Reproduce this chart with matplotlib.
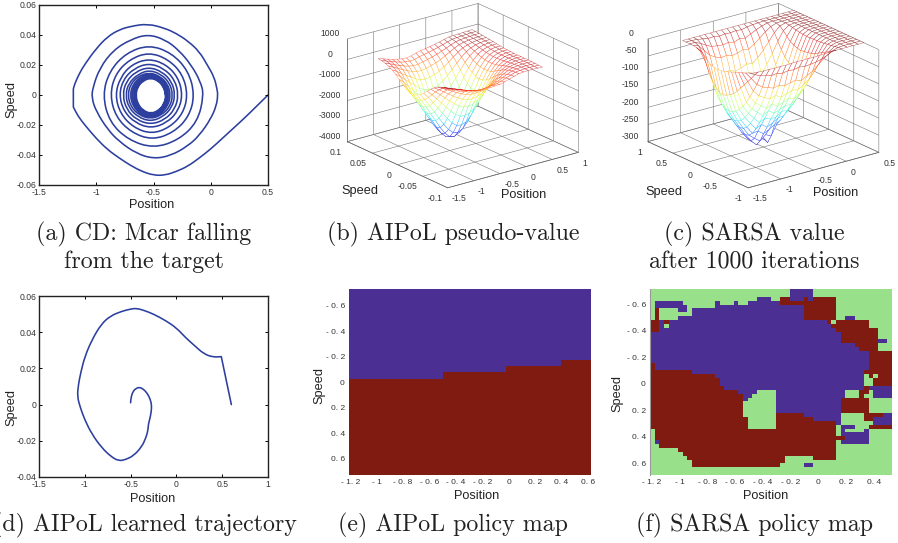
import re

import numpy as np
import matplotlib
matplotlib.use('Agg')
import matplotlib.pyplot as plt
from matplotlib.colors import ListedColormap
from matplotlib.patches import PathPatch
from matplotlib.path import Path

W, H = 898, 543

plt.rcParams['font.family'] = ['Liberation Sans', 'DejaVu Sans']
plt.rcParams['axes.unicode_minus'] = False

LINE_BLUE = '#2c3f9e'
TEXT = '#333333'
PURPLE = '#4b2f92'
RED = '#7f1b10'
GREEN = '#99e08b'

# (a) spiral, one sub list per half turn
mcar_pos = [0.5, 0.5, 0.4, 0.3, 0.2, 0.1, 0, -0.1, -0.2, -0.3, -0.4, -0.5, -0.6, -0.7, -0.8, -0.9, -1, -1.1, -1.16, -1.2, -1.2,
            -1.2, -1.2, -1.19, -1.15, -1.1, -1, -0.9, -0.8, -0.7, -0.55, -0.4, -0.3, -0.2, -0.1, -0.03, 0.03, 0.055, 0.062,
            0.05, 0, -0.1, -0.2, -0.35, -0.5, -0.65, -0.8, -0.9, -1, -1.04, -1.03, -0.97, -0.85, -0.7, -0.55, -0.4, -0.28, -0.17, -0.09, -0.06,
            -0.115, -0.28, -0.5, -0.72, -0.885, -0.945, -0.885, -0.74, -0.54, -0.34, -0.195, -0.14,
            -0.19, -0.325, -0.51, -0.695, -0.83, -0.88, -0.835, -0.71, -0.54, -0.37, -0.245, -0.2,
            -0.243, -0.36, -0.5175, -0.675, -0.79, -0.835, -0.79, -0.69, -0.54, -0.39, -0.285, -0.245,
            -0.285, -0.384, -0.5225, -0.66, -0.76, -0.8, -0.765, -0.67, -0.54, -0.41, -0.315, -0.28,
            -0.313, -0.4, -0.525, -0.65, -0.737, -0.77, -0.74, -0.655, -0.54, -0.425, -0.34, -0.31,
            -0.34, -0.419, -0.5275, -0.636, -0.716, -0.745, -0.717, -0.634, -0.5375, -0.434, -0.358, -0.33,
            -0.356, -0.429, -0.5275, -0.626, -0.699, -0.725, -0.7, -0.631, -0.5375, -0.444, -0.375, -0.35,
            -0.374, -0.439, -0.5275, -0.616, -0.681, -0.705, -0.682, -0.62, -0.535, -0.45, -0.388, -0.365,
            -0.387, -0.446, -0.5275, -0.609, -0.668, -0.69, -0.669, -0.611, -0.5325, -0.454, -0.396, -0.375,
            -0.395, -0.45, -0.525, -0.6, -0.655, -0.675, -0.656, -0.6025, -0.53, -0.4575, -0.404, -0.385,
            -0.404, -0.455, -0.525, -0.595, -0.646, -0.665, -0.647, -0.596, -0.5275, -0.459, -0.409, -0.39,
            -0.408, -0.456, -0.5225, -0.589, -0.637, -0.655, -0.638, -0.59, -0.525, -0.46, -0.412, -0.395]
mcar_speed = [0, 0, -0.0075, -0.015, -0.022, -0.029, -0.036, -0.042, -0.0475, -0.051, -0.0535, -0.0535, -0.051, -0.047, -0.042, -0.0365, -0.029, -0.02, -0.014, -0.008, -0.008,
              0.004, 0.004, 0.007, 0.014, 0.0205, 0.031, 0.039, 0.0435, 0.0458, 0.0475, 0.0445, 0.041, 0.036, 0.029, 0.02, 0.012, 0.004, 0,
              -0.007, -0.016, -0.027, -0.034, -0.0405, -0.0425, -0.039, -0.031, -0.023, -0.011, -0.002, 0.005, 0.018, 0.03, 0.037, 0.0405, 0.037, 0.03, 0.02, 0.009, 0,
              -0.018, -0.03, -0.0355, -0.03, -0.018, 0, 0.016, 0.028, 0.0335, 0.028, 0.016, 0,
              -0.0145, -0.025, -0.03, -0.025, -0.0145, 0, 0.0138, 0.0238, 0.0285, 0.0238, 0.0138, 0,
              -0.0125, -0.0217, -0.026, -0.0217, -0.0125, 0, 0.0118, 0.0204, 0.0243, 0.0204, 0.0118, 0,
              -0.0108, -0.0186, -0.0222, -0.0186, -0.0108, 0, 0.0103, 0.0178, 0.0212, 0.0178, 0.0103, 0,
              -0.0095, -0.0165, -0.0197, -0.0165, -0.0095, 0, 0.009, 0.0156, 0.0186, 0.0156, 0.009, 0,
              -0.0085, -0.0147, -0.0176, -0.0147, -0.0085, 0, 0.008, 0.0139, 0.0166, 0.0139, 0.008, 0,
              -0.0078, -0.0134, -0.016, -0.0134, -0.0078, 0, 0.0073, 0.0126, 0.015, 0.0126, 0.0073, 0,
              -0.0073, -0.0126, -0.015, -0.0126, -0.0073, 0, 0.0068, 0.0117, 0.014, 0.0117, 0.0068, 0,
              -0.0068, -0.0117, -0.014, -0.0117, -0.0068, 0, 0.0063, 0.0108, 0.0129, 0.0108, 0.0063, 0,
              -0.0065, -0.0113, -0.0135, -0.0113, -0.0065, 0, 0.006, 0.0104, 0.0124, 0.0104, 0.006, 0,
              -0.0063, -0.0108, -0.0129, -0.0108, -0.0063, 0, 0.0058, 0.01, 0.0119, 0.01, 0.0058, 0,
              -0.006, -0.0104, -0.0124, -0.0104, -0.006, 0, 0.0055, 0.0095, 0.0114, 0.0095, 0.0055, 0]

# (d) learned trajectory
traj_pos = [-0.5, -0.5, -0.495, -0.475, -0.44, -0.4, -0.36, -0.32, -0.285, -0.27, -0.275, -0.29, -0.305, -0.31, -0.33, -0.38, -0.47, -0.55, -0.63,
            -0.72, -0.82, -0.92, -1, -1.05, -1.082, -1.07, -1.045, -1, -0.92, -0.82, -0.72, -0.6, -0.5, -0.435, -0.35, -0.25, -0.12,
            0, 0.1, 0.2, 0.3, 0.4, 0.49, 0.49, 0.6, 0.6]
traj_speed = [0.001, 0.001, 0.004, 0.0072, 0.009, 0.0096, 0.0085, 0.0064, 0.003, -0.0005, -0.004, -0.008, -0.0105, -0.014, -0.018, -0.0235, -0.0283, -0.0303, -0.0312,
              -0.0285, -0.0235, -0.0165, -0.0085, -0.0015, 0.0045, 0.011, 0.0175, 0.0265, 0.036, 0.0445, 0.049, 0.0515, 0.0528, 0.0532, 0.052, 0.05, 0.0465,
              0.0424, 0.037, 0.0325, 0.028, 0.0262, 0.0265, 0.0265, 0, 0]

# (b) pseudo value, rows go from speed -0.07 to 0.07
pseudo_pos = [-1.2, -1.11, -1.02, -0.93, -0.84, -0.75, -0.66, -0.57, -0.48, -0.39, -0.3, -0.21, -0.12, -0.03, 0.06, 0.15, 0.24, 0.33, 0.42, 0.51, 0.6]
pseudo_speed = [-0.07, -0.063, -0.056, -0.049, -0.042, -0.035, -0.028, -0.021, -0.014, -0.007, 0, 0.007, 0.014, 0.021, 0.028, 0.035, 0.042, 0.049, 0.056, 0.063, 0.07]
pseudo_value = [
    [290, 200, 120, 40, -50, -120, -180, -215, -225, -225, -205, -190, -130, -60, 10, 80, 100, 110, 110, 100, 90],
    [254, 157, 68, -21, -120, -198, -266, -304, -313, -306, -277, -249, -176, -92, -10, 69, 98, 114, 117, 110, 100],
    [198, 90, -16, -121, -234, -328, -409, -456, -464, -451, -406, -355, -261, -153, -50, 46, 88, 113, 122, 117, 109],
    [122, -3, -131, -257, -392, -509, -609, -668, -678, -655, -592, -510, -384, -243, -110, 9, 70, 108, 125, 124, 117],
    [6, -145, -308, -471, -639, -793, -926, -1006, -1021, -983, -889, -759, -586, -392, -211, -56, 36, 95, 122, 126, 120],
    [-140, -325, -533, -741, -953, -1154, -1327, -1437, -1459, -1404, -1271, -1081, -845, -584, -343, -141, -10, 76, 117, 128, 123],
    [-316, -543, -805, -1067, -1333, -1591, -1816, -1961, -1992, -1917, -1737, -1474, -1164, -820, -505, -247, -68, 50, 107, 126, 122],
    [-492, -760, -1077, -1394, -1714, -2029, -2304, -2485, -2526, -2431, -2204, -1868, -1481, -1056, -668, -353, -126, 25, 99, 125, 122],
    [-638, -940, -1302, -1664, -2028, -2389, -2706, -2916, -2964, -2851, -2586, -2189, -1742, -1248, -800, -439, -172, 5, 93, 126, 124],
    [-734, -1058, -1448, -1838, -2230, -2622, -2964, -3192, -3243, -3118, -2827, -2391, -1904, -1367, -880, -489, -198, -4, 93, 131, 130],
    [-770, -1100, -1500, -1900, -2300, -2700, -3050, -3280, -3330, -3200, -2900, -2450, -1950, -1400, -900, -500, -200, 0, 100, 140, 140],
    [-746, -1068, -1458, -1848, -2236, -2625, -2963, -3183, -3226, -3097, -2804, -2365, -1879, -1344, -858, -468, -178, 16, 114, 154, 155],
    [-662, -960, -1322, -1682, -2040, -2395, -2704, -2899, -2931, -2808, -2539, -2137, -1692, -1202, -756, -397, -132, 45, 135, 172, 174],
    [-528, -790, -1107, -1421, -1732, -2038, -2301, -2460, -2477, -2366, -2133, -1790, -1406, -987, -602, -290, -66, 85, 162, 194, 197],
    [-364, -583, -845, -1103, -1357, -1603, -1812, -1927, -1926, -1831, -1643, -1370, -1064, -728, -417, -163, 12, 130, 191, 218, 222],
    [-200, -375, -583, -786, -983, -1169, -1322, -1394, -1376, -1297, -1154, -951, -720, -469, -233, -36, 90, 176, 222, 243, 248],
    [-66, -205, -368, -525, -675, -811, -920, -955, -922, -854, -748, -603, -436, -254, -79, 70, 156, 215, 248, 264, 270],
    [38, -73, -201, -321, -434, -531, -602, -609, -563, -504, -427, -328, -209, -82, 44, 156, 210, 248, 272, 285, 292],
    [102, 10, -96, -193, -282, -352, -401, -387, -331, -278, -218, -147, -61, 31, 126, 214, 248, 273, 290, 301, 309],
    [146, 67, -22, -103, -174, -226, -256, -227, -164, -113, -66, -15, 50, 115, 188, 259, 278, 294, 307, 317, 326],
    [170, 100, 20, -50, -110, -150, -170, -130, -60, -10, 30, 70, 120, 170, 230, 290, 300, 310, 320, 330, 340],
]

# (c) SARSA value, rows go from speed -0.7 to 0.7
sarsa_pos = [-1.2, -1.115, -1.03, -0.945, -0.86, -0.775, -0.69, -0.605, -0.52, -0.435, -0.35, -0.265, -0.18, -0.095, -0.01, 0.075, 0.16, 0.245, 0.33, 0.415, 0.5]
sarsa_speed = [-0.7, -0.63, -0.56, -0.49, -0.42, -0.35, -0.28, -0.21, -0.14, -0.07, 0, 0.07, 0.14, 0.21, 0.28, 0.35, 0.42, 0.49, 0.56, 0.63, 0.7]
sarsa_value = [
    [-1, -2, -3, -3, -4, -3, -4, -3, -2, -3, -2, -3, -2, -1, -1, 0, 0, 0, 0, 0, 0],
    [-5, -14, -22, -26, -30, -28, -32, -29, -31, -27, -30, -28, -26, -22, -15, -7, -1, 0, 0, 0, 0],
    [-10, -30, -52, -64, -70, -76, -72, -78, -74, -70, -76, -66, -58, -44, -30, -14, -3, 0, 0, 0, 0],
    [-14, -44, -76, -94, -104, -112, -106, -116, -110, -104, -108, -98, -86, -66, -42, -20, -5, 0, 0, 0, 0],
    [-18, -58, -98, -120, -132, -144, -136, -146, -140, -132, -138, -126, -110, -86, -54, -26, -6, -1, 0, 0, 0],
    [-22, -72, -118, -142, -156, -170, -160, -172, -166, -158, -160, -148, -130, -100, -66, -32, -8, -1, 0, 0, 0],
    [-26, -86, -134, -160, -178, -196, -186, -194, -192, -180, -182, -168, -148, -116, -76, -38, -9, -1, 0, 0, 0],
    [-30, -98, -148, -176, -198, -218, -210, -222, -214, -204, -202, -186, -160, -128, -84, -42, -10, -1, 0, 0, 0],
    [-34, -106, -158, -190, -214, -236, -234, -246, -238, -228, -220, -200, -170, -136, -90, -45, -10, -1, 0, 0, 0],
    [-36, -112, -164, -196, -222, -246, -260, -272, -258, -266, -236, -210, -178, -140, -94, -46, -11, -1, 0, 0, 0],
    [-38, -116, -166, -198, -224, -250, -272, -288, -268, -290, -248, -216, -182, -144, -96, -48, -11, -1, 0, 0, 0],
    [-36, -114, -164, -196, -222, -248, -270, -280, -276, -286, -246, -214, -180, -142, -94, -46, -10, -1, 0, 0, 0],
    [-32, -104, -156, -188, -212, -236, -248, -256, -244, -252, -228, -204, -170, -132, -88, -42, -9, -1, 0, 0, 0],
    [-24, -90, -142, -172, -192, -214, -222, -226, -218, -212, -206, -184, -154, -118, -76, -36, -7, 0, 0, 0, 0],
    [-14, -70, -118, -148, -170, -186, -190, -196, -186, -182, -176, -160, -132, -100, -60, -26, -4, 0, 0, 0, 0],
    [-6, -44, -86, -116, -134, -146, -142, -150, -144, -136, -138, -122, -100, -72, -40, -14, -2, 0, 0, 0, 0],
    [-2, -20, -52, -76, -90, -98, -94, -102, -96, -90, -92, -80, -62, -42, -20, -5, 0, 0, 0, 0, 0],
    [0, -6, -24, -42, -52, -58, -56, -60, -58, -52, -56, -44, -32, -18, -7, -1, 0, 0, 0, 0, 0],
    [0, -1, -8, -18, -26, -28, -30, -27, -31, -25, -28, -20, -12, -6, -1, 0, 0, 0, 0, 0, 0],
    [0, 0, -1, -4, -7, -6, -9, -7, -8, -6, -8, -4, -2, -1, 0, 0, 0, 0, 0, 0, 0],
    [0, 0, 0, 0, 0, 0, 0, 0, 0, 0, 0, 0, 0, 0, 0, 0, 0, 0, 0, 0, 0],
]

# (e) border between the two actions
border_pos = [-1.21, -0.5, -0.02, 0.4, 0.625]
border_speed = [-0.024, -0.08, -0.126, -0.178, -0.178]

# (f) policy cells, each row is letter + first column of that run
policy_rows = [
    'G0 B30 G35',
    'G0 B30 G35',
    'G0 B23 G26 R28 B30 R33 B34 R35 G40',
    'G0 B1 G7 B14 G15 B18 G19 B21 R28 G40',
    'G0 B1 G8 B14 R33 G40',
    'G0 R1 G2 B6 G8 B9 R33 G40',
    'G0 R1 G2 B9 R33 G40',
    'G0 R1 G2 B6 R33 G40 B42 G44',
    'R0 B2 R3 B4 R38 G39 R40 G47',
    'R0 B2 G3 B4 R39 G47',
    'R0 B2 R40 G49',
    'B0 R41 G49',
    'B0 R41 G49',
    'B0 R41 B49 G51',
    'B0 R44 G49',
    'B0 R45 G49',
    'B0 R47',
    'B0 R47',
    'B0 R47',
    'R0 B1 R47',
    'R0 B1 R47',
    'R0 B9 R46',
    'R0 B14 G46 R47 G48 R49',
    'R0 B15 G46 R48',
    'R0 B15 G46 R48',
    'R0 B16 R46 B47',
    'R0 B19 G23 B27 G42 R45 G47 B48',
    'R0 B20 G22 B27 G42 R45 G46 B48',
    'R0 B20 G21 B27 R41 G47',
    'R0 G20 B27 R41 G47',
    'R0 G20 B27 R41 G47',
    'R0 G20 B27 R41 G47',
    'R0 G20 R27 B33 G41 R46 B50',
    'R0 G21 R27 B35 G41 R46 B48',
    'R0 G21 R27 B40 G41 B48',
    'R0 G21 R27 R35 G40 B41 G44 R47',
    'G0 R1 G40 B41 G42 B46 G47',
    'G0 R1 G40 B41 G47',
    'G0 R1 B42 G47',
    'G0 B1 R2 G40 B41 G47',
    'G0 R2 G40',
    'G0 R6 G40',
    'G0 R7 G40',
    'G0 R8 G29 R35 G40',
    'G0 R9 G29',
    'G0 R9 G28 B33 G35',
    'G0',
    'G0',
]
policy_codes = {'B': 0, 'R': 1, 'G': 2}
n_policy_cols = 52

policy_ticks_x = [-1.2, -1, -0.8, -0.6, -0.4, -0.2, 0, 0.2, 0.4]
policy_ticks_y = [-0.6, -0.4, -0.2, 0, 0.2, 0.4, 0.6]
policy_labels_x = ['- 1. 2', '- 1', '- 0. 8', '- 0. 6', '- 0. 4', '- 0. 2', '0', '0. 2', '0. 4']
policy_labels_y = ['- 0. 6', '- 0. 4', '- 0. 2', '0', '0. 2', '0. 4', '0. 6']


def px_rect(left, top, right, bottom):
    return [left / W, 1 - bottom / H, (right - left) / W, (bottom - top) / H]


def fig_xy(x, y):
    return x / W, 1 - y / H


def labels_2d(ax, pos_xy, speed_xy):
    ax.set_xlabel('Position', fontsize=9.2, color='#222222', va='center')
    ax.set_ylabel('Speed', fontsize=9.2, color='#222222', va='center')
    ax.xaxis.set_label_coords(*fig_xy(*pos_xy), transform=fig.transFigure)
    ax.yaxis.set_label_coords(*fig_xy(*speed_xy), transform=fig.transFigure)


def smooth_curve(ax, pos, speed):
    # read points used as quadratic control points so the agg curve stays round
    pts = np.column_stack([pos, speed])
    verts = [pts[0]]
    codes = [Path.MOVETO]
    for a, b in zip(pts[:-1], pts[1:]):
        verts += [a, (a + b) / 2]
        codes += [Path.CURVE3, Path.CURVE3]
    verts.append(pts[-1])
    codes.append(Path.LINETO)
    ax.add_patch(PathPatch(Path(verts, codes), fc='none', ec=LINE_BLUE, lw=1.15, capstyle='round', joinstyle='round'))


def line_panel(rect, pos, speed, xticks, yticks, xfmt, yfmt, pos_xy, speed_xy):
    ax = fig.add_axes(px_rect(*rect))
    smooth_curve(ax, pos, speed)
    ax.set_xlim(xticks[0], xticks[-1])
    ax.set_ylim(yticks[0], yticks[-1])
    ax.set_xticks(xticks)
    ax.set_xticklabels(xfmt)
    ax.set_yticks(yticks)
    ax.set_yticklabels(yfmt)
    ax.tick_params(direction='in', length=2, width=0.7, top=True, right=True, labelsize=6.2, labelcolor=TEXT, pad=2)
    for s in ax.spines.values():
        s.set_linewidth(1.0)
        s.set_color('#222222')
    labels_2d(ax, pos_xy, speed_xy)
    return ax


def mesh_panel(rect, pos, speed, value, zlim, xticks, yticks, zticks, xfmt, yfmt, zfmt):
    ax = fig.add_axes(px_rect(*rect), projection='3d', proj_type='ortho')
    ax.patch.set_alpha(0)
    ax.view_init(elev=20.7, azim=-127.5)
    ax.set_box_aspect((1.5, 1.5, 1), zoom=1.0)
    X, Y = np.meshgrid(pos, speed)
    Z = np.array(value, dtype=float)
    corner = (Z[:-1, :-1] + Z[1:, :-1] + Z[:-1, 1:] + Z[1:, 1:]) / 4
    norm = plt.Normalize(Z.min(), Z.max())
    edge = plt.cm.jet(norm(corner)).reshape(-1, 4)
    edge[:, 3] = 0.6
    ax.plot_surface(X, Y, Z, rstride=1, cstride=1, color='white', edgecolor=edge, linewidth=0.35, shade=False)
    ax.set_xlim(xticks[0], xticks[-1])
    ax.set_ylim(yticks[0], yticks[-1])
    ax.set_zlim(*zlim)
    ax.set_xticks(xticks)
    ax.set_xticklabels(xfmt, ha='left')
    ax.set_yticks(yticks)
    ax.set_yticklabels(yfmt, ha='right')
    ax.set_zticks(zticks)
    ax.set_zticklabels(zfmt, va='bottom')
    for a in (ax.xaxis, ax.yaxis, ax.zaxis):
        a.set_pane_color((1, 1, 1, 0))
        a.pane.set_edgecolor('#666666')
        a.pane.set_linewidth(0.5)
        a.line.set_color('#666666')
        a.line.set_linewidth(0.5)
        a._axinfo['grid']['color'] = '#777777'
        a._axinfo['grid']['linewidth'] = 0.4
        a._axinfo['tick']['inward_factor'] = 0
        a._axinfo['tick']['outward_factor'] = 0
    ax.tick_params(axis='x', labelsize=6.2, labelcolor=TEXT, pad=-4)
    ax.tick_params(axis='y', labelsize=6.2, labelcolor=TEXT, pad=-4)
    ax.tick_params(axis='z', labelsize=6.2, labelcolor=TEXT, pad=-1)
    return ax


def policy_axes(rect, xlim, ylim, xticks, xlabels, pos_xy, speed_xy):
    ax = fig.add_axes(px_rect(*rect))
    ax.set_xlim(*xlim)
    ax.set_ylim(*ylim)
    ax.set_xticks(xticks)
    ax.set_xticklabels(xlabels)
    ax.set_yticks(policy_ticks_y)
    ax.set_yticklabels(policy_labels_y)
    ax.tick_params(length=0, labelsize=6, labelcolor=TEXT, pad=3)
    for s in ax.spines.values():
        s.set_visible(False)
    labels_2d(ax, pos_xy, speed_xy)
    return ax


def parse_policy():
    grid = np.zeros((len(policy_rows), n_policy_cols), dtype=int)
    for r, row in enumerate(policy_rows):
        runs = re.findall(r'([BRG])(\d+)', row)
        for k, (code, start) in enumerate(runs):
            end = int(runs[k + 1][1]) if k + 1 < len(runs) else n_policy_cols
            grid[r, int(start):end] = policy_codes[code]
    return grid


fig = plt.figure(figsize=(W / 100, H / 100), dpi=100)

line_panel((39, 5, 268, 185), mcar_pos, mcar_speed,
           [-1.5, -1, -0.5, 0, 0.5], [-0.06, -0.04, -0.02, 0, 0.02, 0.04, 0.06],
           ['-1.5', '-1', '-0.5', '0', '0.5'], ['-0.06', '-0.04', '-0.02', '0', '0.02', '0.04', '0.06'],
           (152, 205), (11, 99))
line_panel((39, 296, 268, 477), traj_pos, traj_speed,
           [-1.5, -1, -0.5, 0, 0.5, 1], [-0.04, -0.02, 0, 0.02, 0.04, 0.06],
           ['-1.5', '-1', '-0.5', '0', '0.5', '1'], ['-0.04', '-0.02', '0', '0.02', '0.04', '0.06'],
           (153, 499), (11, 408))

mesh_panel((334.5, -26, 584.5, 224), pseudo_pos, pseudo_speed, pseudo_value, (-4000, 1000),
           [-1.5, -1, -0.5, 0, 0.5, 1], [-0.1, -0.05, 0, 0.05, 0.1], [-4000, -3000, -2000, -1000, 0, 1000],
           ['-1.5', '-1', '-0.5', '0', '0.5', '1'], ['-0.1', '-0.05', '0', '0.05', '0.1'],
           ['-4000', '-3000', '-2000', '-1000', '0', '1000'])
mesh_panel((635, -26, 885, 224), sarsa_pos, sarsa_speed, sarsa_value, (-300, 0),
           [-1.5, -1, -0.5, 0, 0.5], [-1, -0.5, 0, 0.5, 1], [-300, -250, -200, -150, -100, -50, 0],
           ['-1.5', '-1', '-0.5', '0', '0.5'], ['-1', '-0.5', '0', '0.5', '1'],
           ['-300', '-250', '-200', '-150', '-100', '-50', '0'])
for txt, x, y in [('Speed', 360, 191), ('Position', 524, 195), ('Speed', 664, 192), ('Position', 836, 193)]:
    fig.text(*fig_xy(x, y), txt, fontsize=9.2, color='#222222', ha='center', va='center')

ax_e = policy_axes((349, 289, 591, 475), (-1.21, 0.625), (0.73, -0.733),
                   policy_ticks_x + [0.6], policy_labels_x + ['0. 6'], (477, 496), (319, 386))
ax_e.set_facecolor(RED)
ax_e.fill_between(border_pos, border_speed, -0.733, step='post', color=PURPLE, lw=0)

ax_f = policy_axes((650, 289, 892, 475), (-1.212, 0.53), (0.688, -0.714),
                   policy_ticks_x, policy_labels_x, (766, 496), (617, 393))
policy_grid = parse_policy()
ax_f.pcolormesh(np.linspace(-1.212, 0.53, n_policy_cols + 1), np.linspace(-0.714, 0.688, len(policy_rows) + 1), policy_grid,
                cmap=ListedColormap([PURPLE, RED, GREEN]), vmin=0, vmax=2)
ax_f.spines['left'].set_visible(True)
ax_f.spines['left'].set_color('#999999')

captions = [('(a) CD: Mcar falling', 144, 234), ('from the target', 144, 262),
            ('(b) AIPoL pseudo-value', 453, 234),
            ('(c) SARSA value', 754, 234), ('after 1000 iterations', 754, 262),
            ('(d) AIPoL learned trajectory', 145, 525), ('(e) AIPoL policy map', 453, 525),
            ('(f) SARSA policy map', 754, 525)]
for txt, x, y in captions:
    fig.text(*fig_xy(x, y), txt, family='cmr10', fontsize=17.2, color='#222222', ha='center', va='center')

fig.savefig('out.png', dpi=100)
